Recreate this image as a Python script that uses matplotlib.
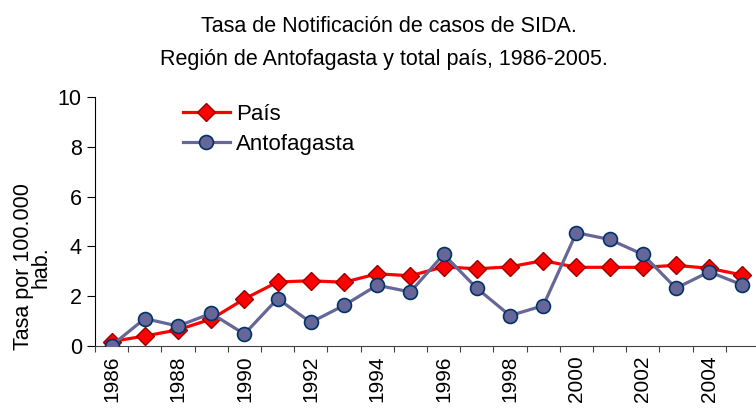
import matplotlib.pyplot as plt

plt.rcParams['font.family'] = ['Liberation Sans', 'DejaVu Sans']

years = list(range(1986, 2006))
pais = [0.18, 0.4, 0.65, 1.08, 1.89, 2.57, 2.62, 2.56, 2.9, 2.82,
        3.18, 3.1, 3.18, 3.43, 3.16, 3.16, 3.16, 3.24, 3.12, 2.85]
antofagasta = [0.02, 1.1, 0.8, 1.31, 0.48, 1.9, 0.95, 1.63, 2.44, 2.17,
               3.68, 2.32, 1.22, 1.62, 4.55, 4.28, 3.68, 2.32, 2.98, 2.45]
tick_years = list(range(1986, 2006, 2))

W, H = 756, 409
fig = plt.figure(figsize=(W / 100, H / 100), dpi=100)
ax = fig.add_axes([95 / W, 1 - 346 / H, 664 / W, 249 / H])

x = list(range(len(years)))
ax.plot(x, pais, color='#ff0000', lw=2.3, marker='D', ms=9,
        mfc='#ff0000', mec='#990000', mew=1, label='País', zorder=3)
ax.plot(x, antofagasta, color='#666699', lw=2.3, marker='o', ms=10,
        mfc='#666699', mec='#003366', mew=1.2, label='Antofagasta', zorder=4)

ax.set_xlim(-0.5, len(years) - 0.5)
ax.set_ylim(0, 10)
ax.set_yticks([0, 2, 4, 6, 8, 10])
ax.tick_params(axis='y', labelsize=15.5, length=5.5, direction='out', pad=4)

# tick marks between categories, labels every 2 years
ax.set_xticks([i - 0.5 for i in range(len(years) + 1)])
ax.set_xticklabels([])
ax.tick_params(axis='x', which='major', length=4.5, direction='out',
               color='#444444')
ax.set_xticks([years.index(y) for y in tick_years], minor=True)
ax.set_xticklabels([str(y) for y in tick_years], minor=True, rotation=90,
                   fontsize=15)
ax.tick_params(axis='x', which='minor', length=0, pad=7)

for s in ['top', 'right']:
    ax.spines[s].set_visible(False)
ax.spines['left'].set_color('black')
ax.spines['bottom'].set_color('#444444')

fig.text(32 / W, 1 - 267 / H, 'Tasa por 100.000\nhab.', rotation=90,
         ha='center', va='center', multialignment='center',
         fontsize=15.5, linespacing=0.8)

ax.legend(loc='upper left', bbox_to_anchor=(183 / W, 1 - 104 / H),
          bbox_transform=fig.transFigure, frameon=False, fontsize=16,
          handlelength=2.1, labelspacing=0.4, handletextpad=0.3,
          borderpad=0, borderaxespad=0)

fig.text(389 / W, 1 - 32 / H, 'Tasa de Notificación de casos de SIDA.',
         ha='center', va='baseline', fontsize=15.5)
fig.text(384 / W, 1 - 65 / H,
         'Región de Antofagasta y total país, 1986-2005.',
         ha='center', va='baseline', fontsize=15.5)

fig.savefig('out.png', dpi=100)
